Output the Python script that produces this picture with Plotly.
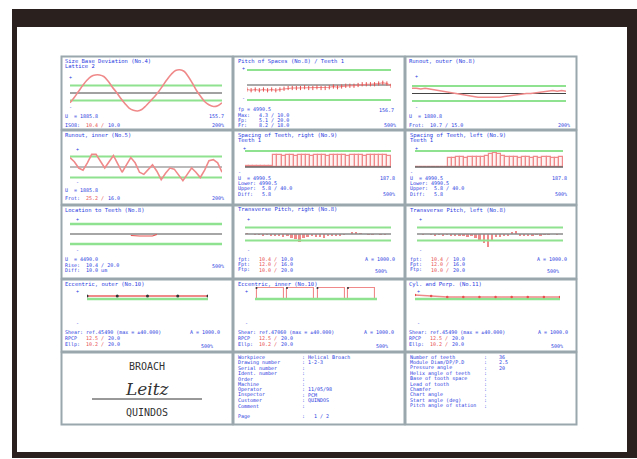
import plotly.graph_objects as go

W, H = 637, 459

# ---------------- measured data ----------------
teeth = list(range(36))

# Size base deviation over one revolution (deg / um)
size_angle = list(range(0, 361, 10))
size_dev = [-13, -6, 2, 10, 17, 22, 24, 24, 22, 16, 8, 1, -7, -14, -20, -23, -24, -22, -17,
            -11, -5, 2, 10, 18, 25, 30, 31, 29, 22, 13, 3, -5, -12, -16, -18, -17, -13]

pitch_spaces = [-6, -7, -6, -7, -6, -7, -6, -7, -6, -5, -4, -4, -4, -4, -3, -4, -4, -3,
                -4, -4, -3, -2, -3, -2, -1, -1, -1, 0, 1, 1, 1, 1, 2, 3, 2, -1]

runout_outer = [7, 7, 6, 7, 6, 5, 4, 2, 1, 0, -1, -2, -3, -4, -5, -5, -5, -5, -6, -5, -5,
                -4, -3, -3, -2, -1, 0, 0, 1, 2, 3, 4, 4, 3, 4, 3]

runout_inner = [9, 5, -1, -3, 4, 12, 12, 6, -1, 5, 11, 3, -5, 2, 9, 4, -5, -7, -2, 2, -4,
                -12, -6, -1, -2, -8, -13, -7, -1, -5, -10, -3, 6, 7, 4, -5]

spacing_right = [1, 1, 1, 1, 1, 1, 1, 12, 12, 11, 12, 12, 11, 12, 12, 12, 11, 12, 12, 12,
                 11, 12, 12, 12, 12, 11, 12, 12, 12, 11, 12, 12, 12, 12, 12, 11]

spacing_left = [0, 0, 0, 0, 0, 0, 0, 0, 9, 9, 10, 10, 9, 10, 10, 10, 10, 11, 13, 14, 13,
                11, 10, 10, 10, 9, 10, 10, 9, 10, 9, 10, 10, 9, 9, 10]

location_pos = [14, 15, 16, 17, 18, 19, 20]
location_dev = [-1.5, -2, -2, -2, -2, -2, -0.5]

pitch_right = [1, 0, -1, -1, -2, -1, -2, -3, -2, -4, -3, -6, -8, -13, -6, -4, -3, -5, -4,
               -6, -3, -2, -3, -2, -1, 0, 2, 3, 1, 0, -1, -1, 0, -1, -1, 0]

pitch_left = [0, -1, 0, -1, -2, -1, -2, -1, -2, -2, -3, -2, -4, -3, -6, -9, -14, -20, -9,
              -5, -4, -3, -2, 2, 4, -2, -3, -2, -2, -1, -2, -1, -1, 0, -1, 0]

ecc_outer_pos = [0, 1, 2, 3, 4]
ecc_outer = [3, 3, 3, 3, 3]

ecc_inner_pos = [0, 1, 2, 3]
ecc_inner = [11, 11, 11, 11]

cyl_pos = [0, 1, 2, 3, 4, 5, 6, 7, 8, 9]
cyl_dev = [4, 3, 2, 2, 2, 2, 2, 2, 2, 2]

# ---------------- page geometry (px) ----------------
COLS = [(61, 233), (233, 405), (405, 577)]
ROWS = [(56, 130), (130, 205), (205, 279), (279, 352), (352, 425)]

BLUE = "#2a3ce0"
RED = "#e8504f"
TRACE = "#f08a8a"
GREEN = "#8fe28f"
FRAME = "#9aa8ae"
FONT = "DejaVu Sans Mono"
FS = 5


def px(x):
    return x / W


def py(y):
    return 1 - y / H


fig = go.Figure()
shapes = []
annots = []


def text(x, y, s, color=BLUE, size=FS, anchor="left"):
    annots.append(dict(x=px(x), y=py(y), xref="paper", yref="paper", text=s,
                       showarrow=False, xanchor=anchor, yanchor="middle",
                       font=dict(family=FONT, size=size, color=color)))


def panel_axes(i, xpx, ypx, xr, yr):
    ax = "" if i == 1 else str(i)
    fig.update_layout(**{
        "xaxis" + ax: dict(domain=[px(xpx[0]), px(xpx[1])], range=xr, visible=False,
                           anchor="y" + ax, fixedrange=True),
        "yaxis" + ax: dict(domain=[py(ypx[1]), py(ypx[0])], range=yr, visible=False,
                           anchor="x" + ax, fixedrange=True),
    })
    return "x" + ax, "y" + ax


def hline(xa, ya, xr, yv, color, width):
    fig.add_trace(go.Scatter(x=list(xr), y=[yv, yv], mode="lines", xaxis=xa, yaxis=ya,
                             line=dict(color=color, width=width), hoverinfo="skip"))


# page frame
shapes.append(dict(type="rect", xref="paper", yref="paper", x0=px(12), x1=px(637),
                   y0=py(458), y1=py(9), fillcolor="#2a211f", line_width=0, layer="below"))
shapes.append(dict(type="rect", xref="paper", yref="paper", x0=px(17), x1=px(627),
                   y0=py(452), y1=py(27), fillcolor="white", line_width=0, layer="below"))

# panel boxes
for (y0, y1) in ROWS:
    for (x0, x1) in COLS:
        shapes.append(dict(type="rect", xref="paper", yref="paper", x0=px(x0 + 0.5),
                           x1=px(x1 - 0.5), y0=py(y1 - 0.5), y1=py(y0 + 0.5),
                           line=dict(color=FRAME, width=2)))


def signs(x, y_plus, y_minus):
    text(x, y_plus, "+", size=5)
    text(x, y_minus, "-", size=5)


# ---- 1: size base deviation ----
xa, ya = panel_axes(1, (70, 222), (68, 118), [0, 360], [-33.3, 33.3])
hline(xa, ya, (0, 360), 10, GREEN, 2)
hline(xa, ya, (0, 360), -10, GREEN, 2)
hline(xa, ya, (0, 360), 0, "#444444", 1)
fig.add_trace(go.Scatter(x=size_angle, y=size_dev, mode="lines", xaxis=xa, yaxis=ya,
                         line=dict(color=TRACE, width=1.6, shape="spline"), hoverinfo="skip"))
text(63, 61, "Size Base Deviation (No.4)", size=5.5)
text(63, 66, "Lattice 2", size=5.5)
signs(67, 77, 107)
text(63, 116, "U  = 1885.8")
text(226, 116, "155.7", anchor="right")
text(63, 125, "ISO8:")
text(84, 125, "10.4 /", color=RED)
text(106, 125, "10.0")
text(226, 125, "200%", anchor="right")

# ---- 2: pitch of spaces ----
xa, ya = panel_axes(2, (247, 391), (60, 110), [0, 35], [-33.3, 33.3])
hline(xa, ya, (0, 35), 20, GREEN, 2)
hline(xa, ya, (0, 35), -20, GREEN, 2)
hline(xa, ya, (0, 35), 0, "#555555", 1)
fig.add_trace(go.Scatter(x=teeth, y=pitch_spaces, mode="lines+markers", xaxis=xa, yaxis=ya,
                         line=dict(color=TRACE, width=1.2),
                         marker=dict(symbol="line-ns", size=3, line=dict(color=RED, width=1)),
                         hoverinfo="skip"))
text(236, 61, "Pitch of Spaces (No.8) / Teeth 1", size=5.5)
signs(240, 68, 98)
text(236, 109.5, "fp = 4990.5")
text(396, 109.5, "156.7", anchor="right")
text(236, 114.8, "Max:   4.3 / 10.0")
text(236, 120.1, "Fp:    5.1 / 20.0")
text(236, 125.4, "Fr:    8.2 / 18.0")
text(398, 125.4, "500%", anchor="right")

# ---- 3: runout, outer ----
xa, ya = panel_axes(3, (412, 566), (68.5, 118.5), [0, 35], [-33.3, 33.3])
hline(xa, ya, (0, 35), 10, GREEN, 2)
hline(xa, ya, (0, 35), -10, GREEN, 2)
hline(xa, ya, (0, 35), 0, "#444444", 1)
fig.add_trace(go.Scatter(x=teeth, y=runout_outer, mode="lines", xaxis=xa, yaxis=ya,
                         line=dict(color=TRACE, width=1.6), hoverinfo="skip"))
text(407, 61, "Runout, outer (No.8)", size=5.5)
signs(413, 76, 107)
text(407, 116, "U  = 1880.8")
text(407, 125, "Frot:  10.7 / 15.0")
text(572, 125, "200%", anchor="right")

# ---- 4: runout, inner ----
xa, ya = panel_axes(4, (70, 222), (142, 192), [0, 35], [-23.8, 23.8])
hline(xa, ya, (0, 35), 10, GREEN, 2)
hline(xa, ya, (0, 35), -10, GREEN, 2)
hline(xa, ya, (0, 35), 0, "#777777", 1)
fig.add_trace(go.Scatter(x=teeth, y=runout_inner, mode="lines", xaxis=xa, yaxis=ya,
                         line=dict(color=TRACE, width=1.6), hoverinfo="skip"))
text(63, 135, "Runout, inner (No.5)", size=5.5)
signs(74, 149, 182)
text(63, 190, "U  = 1885.8")
text(63, 198, "Frot:")
text(84, 198, "25.2 /", color=RED)
text(106, 198, "16.0")
text(226, 198, "200%", anchor="right")

# ---- 5 / 6: spacing of teeth ----
for idx, (cx, vals, side, xr_px) in enumerate([
        (COLS[1], spacing_right, "right", (245, 391)),
        (COLS[2], spacing_left, "left", (415, 563))]):
    xa, ya = panel_axes(5 + idx, xr_px, (142, 192), [-0.5, 35.5], [-25, 25])
    hline(xa, ya, (-0.5, 35.5), 16, GREEN, 2)
    hline(xa, ya, (-0.5, 35.5), 0, "#666666", 1.5)
    fig.add_trace(go.Bar(x=teeth, y=vals, xaxis=xa, yaxis=ya, width=1,
                         marker=dict(color="rgba(255,120,120,0.08)",
                                     line=dict(color=TRACE, width=1.2)),
                         hoverinfo="skip"))
    x0 = cx[0]
    text(x0 + 3, 135, "Spacing of Teeth, %s (No.9)" % side, size=5.5)
    text(x0 + 3, 140, "Teeth 1", size=5.5)
    text(x0 + 8, 148, "+", size=5)
    text(x0 + 3, 171.5, "-", size=5)
    text(x0 + 3, 178, "U  = 4990.5")
    text(cx[1] - 8, 178, "187.8", anchor="right")
    text(x0 + 3, 183.3, "Lower: 4990.5")
    text(x0 + 3, 188.6, "Upper:  5.8 / 40.0")
    text(x0 + 3, 193.9, "Diff:   5.8")
    text(cx[1] - 8, 193.9, "500%", anchor="right")

# ---- 7: location ----
xa, ya = panel_axes(7, (70, 222), (209, 259), [0, 35], [-25, 25])
hline(xa, ya, (0, 35), 10, GREEN, 2.5)
hline(xa, ya, (0, 35), -10, GREEN, 2.5)
hline(xa, ya, (0, 35), 0, "#888888", 1.5)
fig.add_trace(go.Scatter(x=location_pos, y=location_dev, mode="lines", xaxis=xa, yaxis=ya,
                         line=dict(color=RED, width=1.2), hoverinfo="skip"))
text(63, 210, "Location to Teeth (No.8)", size=5.5)
signs(74, 219, 250)
text(63, 259, "U  = 4490.0")
text(63, 264.5, "Rise:  10.4 / 20.0")
text(63, 270, "Diff:  10.0 um")
text(226, 266, "500%", anchor="right")

# ---- 8 / 9: transverse pitch ----
for idx, (cx, vals, side) in enumerate([(COLS[1], pitch_right, "right"),
                                        (COLS[2], pitch_left, "left")]):
    xr_px = (cx[0] + 12, cx[1] - 14)
    xa, ya = panel_axes(8 + idx, xr_px, (209, 259), [-0.5, 35.5], [-38.5, 38.5])
    hline(xa, ya, (-0.5, 35.5), 10, GREEN, 2)
    hline(xa, ya, (-0.5, 35.5), -10, GREEN, 2)
    hline(xa, ya, (-0.5, 35.5), 0, "#8a8a8a", 1.5)
    fig.add_trace(go.Bar(x=teeth, y=vals, xaxis=xa, yaxis=ya, width=0.45,
                         marker=dict(color=TRACE, line=dict(width=0)), hoverinfo="skip"))
    x0 = cx[0]
    text(x0 + 3, 210, "Transverse Pitch, %s (No.8)" % side, size=5.5)
    signs(x0 + 12, 219, 250)
    for k, (lab, v1, v2) in enumerate([("fpt:", "10.4 /", "10.0"),
                                       ("Fpt:", "12.0 /", "16.0"),
                                       ("Ftp:", "10.0 /", "20.0")]):
        yy = 259 + k * 5.3
        text(x0 + 3, yy, lab)
        text(x0 + 24, yy, v1, color=RED)
        text(x0 + 46, yy, v2)
    text(cx[1] - 8, 259, "A = 1000.0", anchor="right")
    text(cx[1] - 16, 271, "500%", anchor="right")

# ---- 10: eccentric, outer ----
xa, ya = panel_axes(10, (87, 208), (274, 324), [0, 4], [-25, 25])
hline(xa, ya, (-0.56, 4.56), 0, GREEN, 2.5)
fig.add_trace(go.Scatter(x=ecc_outer_pos, y=ecc_outer, mode="lines+markers", xaxis=xa,
                         yaxis=ya, line=dict(color=TRACE, width=2),
                         marker=dict(color="#333333", size=3), hoverinfo="skip"))
text(63, 284, "Eccentric, outer (No.10)", size=5.5)
signs(74, 291, 323)
text(63, 332, "Shear: ref.45490 (max = ±40.000)")
text(222, 332, "A = 1000.0", anchor="right")
text(63, 338, "RPCP")
text(84, 338, "12.5 /", color=RED)
text(106, 338, "20.0")
text(63, 344, "Ellp:")
text(84, 344, "10.2 /", color=RED)
text(106, 344, "20.0")
text(215, 346, "500%", anchor="right")

# ---- 11: eccentric, inner ----
xa, ya = panel_axes(11, (255, 377), (274, 324), [0, 4], [-25, 25])
hline(xa, ya, (-0.8, 4.6), 0, GREEN, 2.5)
fig.add_trace(go.Bar(x=[p + 0.5 for p in ecc_inner_pos], y=ecc_inner, xaxis=xa,
                     yaxis=ya, width=0.9,
                     marker=dict(color="rgba(0,0,0,0)", line=dict(color=TRACE, width=1.1)),
                     hoverinfo="skip"))
fig.add_trace(go.Scatter(x=[p + 0.05 for p in ecc_inner_pos], y=ecc_inner, mode="markers",
                         xaxis=xa, yaxis=ya, marker=dict(color="#333333", size=2),
                         hoverinfo="skip"))
text(236, 284, "Eccentric, inner (No.10)", size=5.5)
signs(243, 291, 323)
text(236, 332, "Shear: ref.47060 (max = ±40.000)")
text(396, 332, "A = 1000.0", anchor="right")
text(236, 338, "RPCP")
text(257, 338, "12.5 /", color=RED)
text(279, 338, "20.0")
text(236, 344, "Ellp:")
text(257, 344, "10.2 /", color=RED)
text(279, 344, "20.0")
text(390, 346, "500%", anchor="right")

# ---- 12: cylindricity ----
xa, ya = panel_axes(12, (415, 560), (274, 324), [0, 9], [-25, 25])
hline(xa, ya, (0, 9), 0, GREEN, 2.5)
fig.add_trace(go.Scatter(x=cyl_pos, y=cyl_dev, mode="lines+markers", xaxis=xa, yaxis=ya,
                         line=dict(color=TRACE, width=1.5),
                         marker=dict(color=RED, size=2.5), hoverinfo="skip"))
text(407, 284, "Cyl. and Perp. (No.11)", size=5.5)
signs(415, 291, 323)
text(407, 332, "Shear: ref.45490 (max = ±40.000)")
text(570, 332, "A = 1000.0", anchor="right")
text(407, 338, "RPCP")
text(428, 338, "12.5 /", color=RED)
text(450, 338, "20.0")
text(407, 344, "Ellp:")
text(428, 344, "10.2 /", color=RED)
text(450, 344, "20.0")
text(565, 346, "500%", anchor="right")

# ---- bottom row: logo / header ----
text(147, 366, "BROACH", color="#333333", size=10, anchor="center")
text(147, 412, "QUINDOS", color="#333333", size=10, anchor="center")
annots.append(dict(x=px(147), y=py(389), xref="paper", yref="paper", text="<i>Leitz</i>",
                   showarrow=False, xanchor="center", yanchor="middle",
                   font=dict(family="DejaVu Serif", size=17, color="#333333")))
shapes.append(dict(type="line", xref="paper", yref="paper", x0=px(92), x1=px(202),
                   y0=py(399), y1=py(399), line=dict(color="#333333", width=1)))

left_keys = ["Workpiece", "Drawing number", "Serial number", "Ident. number", "Order",
             "Machine", "Operator", "Inspector", "Customer", "Comment", "", "Page"]
left_vals = [": Helical Broach", ": 1-2-3", ":", ":", ":", ":", ": 11/05/98", ": PCM",
             ": QUINDOS", ":", "", ":   1 / 2"]
for k, (a, b) in enumerate(zip(left_keys, left_vals)):
    y = 357 + k * 5.4
    text(236, y, a)
    text(300, y, b)

right_keys = ["Number of teeth", "Module Diam/DP/P.D", "Pressure angle",
              "Helix angle of teeth", "Base of tooth space", "Lead of tooth",
              "Chamfer", "Chart angle", "Start angle (deg)", "Pitch angle of station"]
right_vals = [":    36", ":    2.5", ":    20", ":", ":", ":", ":", ":", ":", ":"]
for k, (a, b) in enumerate(zip(right_keys, right_vals)):
    y = 357 + k * 5.4
    text(408, y, a)
    text(482, y, b)

fig.update_layout(width=W, height=H, margin=dict(l=0, r=0, t=0, b=0),
                  paper_bgcolor="white", plot_bgcolor="rgba(0,0,0,0)",
                  showlegend=False, shapes=shapes, annotations=annots, bargap=0)

fig.write_html("out.html")
